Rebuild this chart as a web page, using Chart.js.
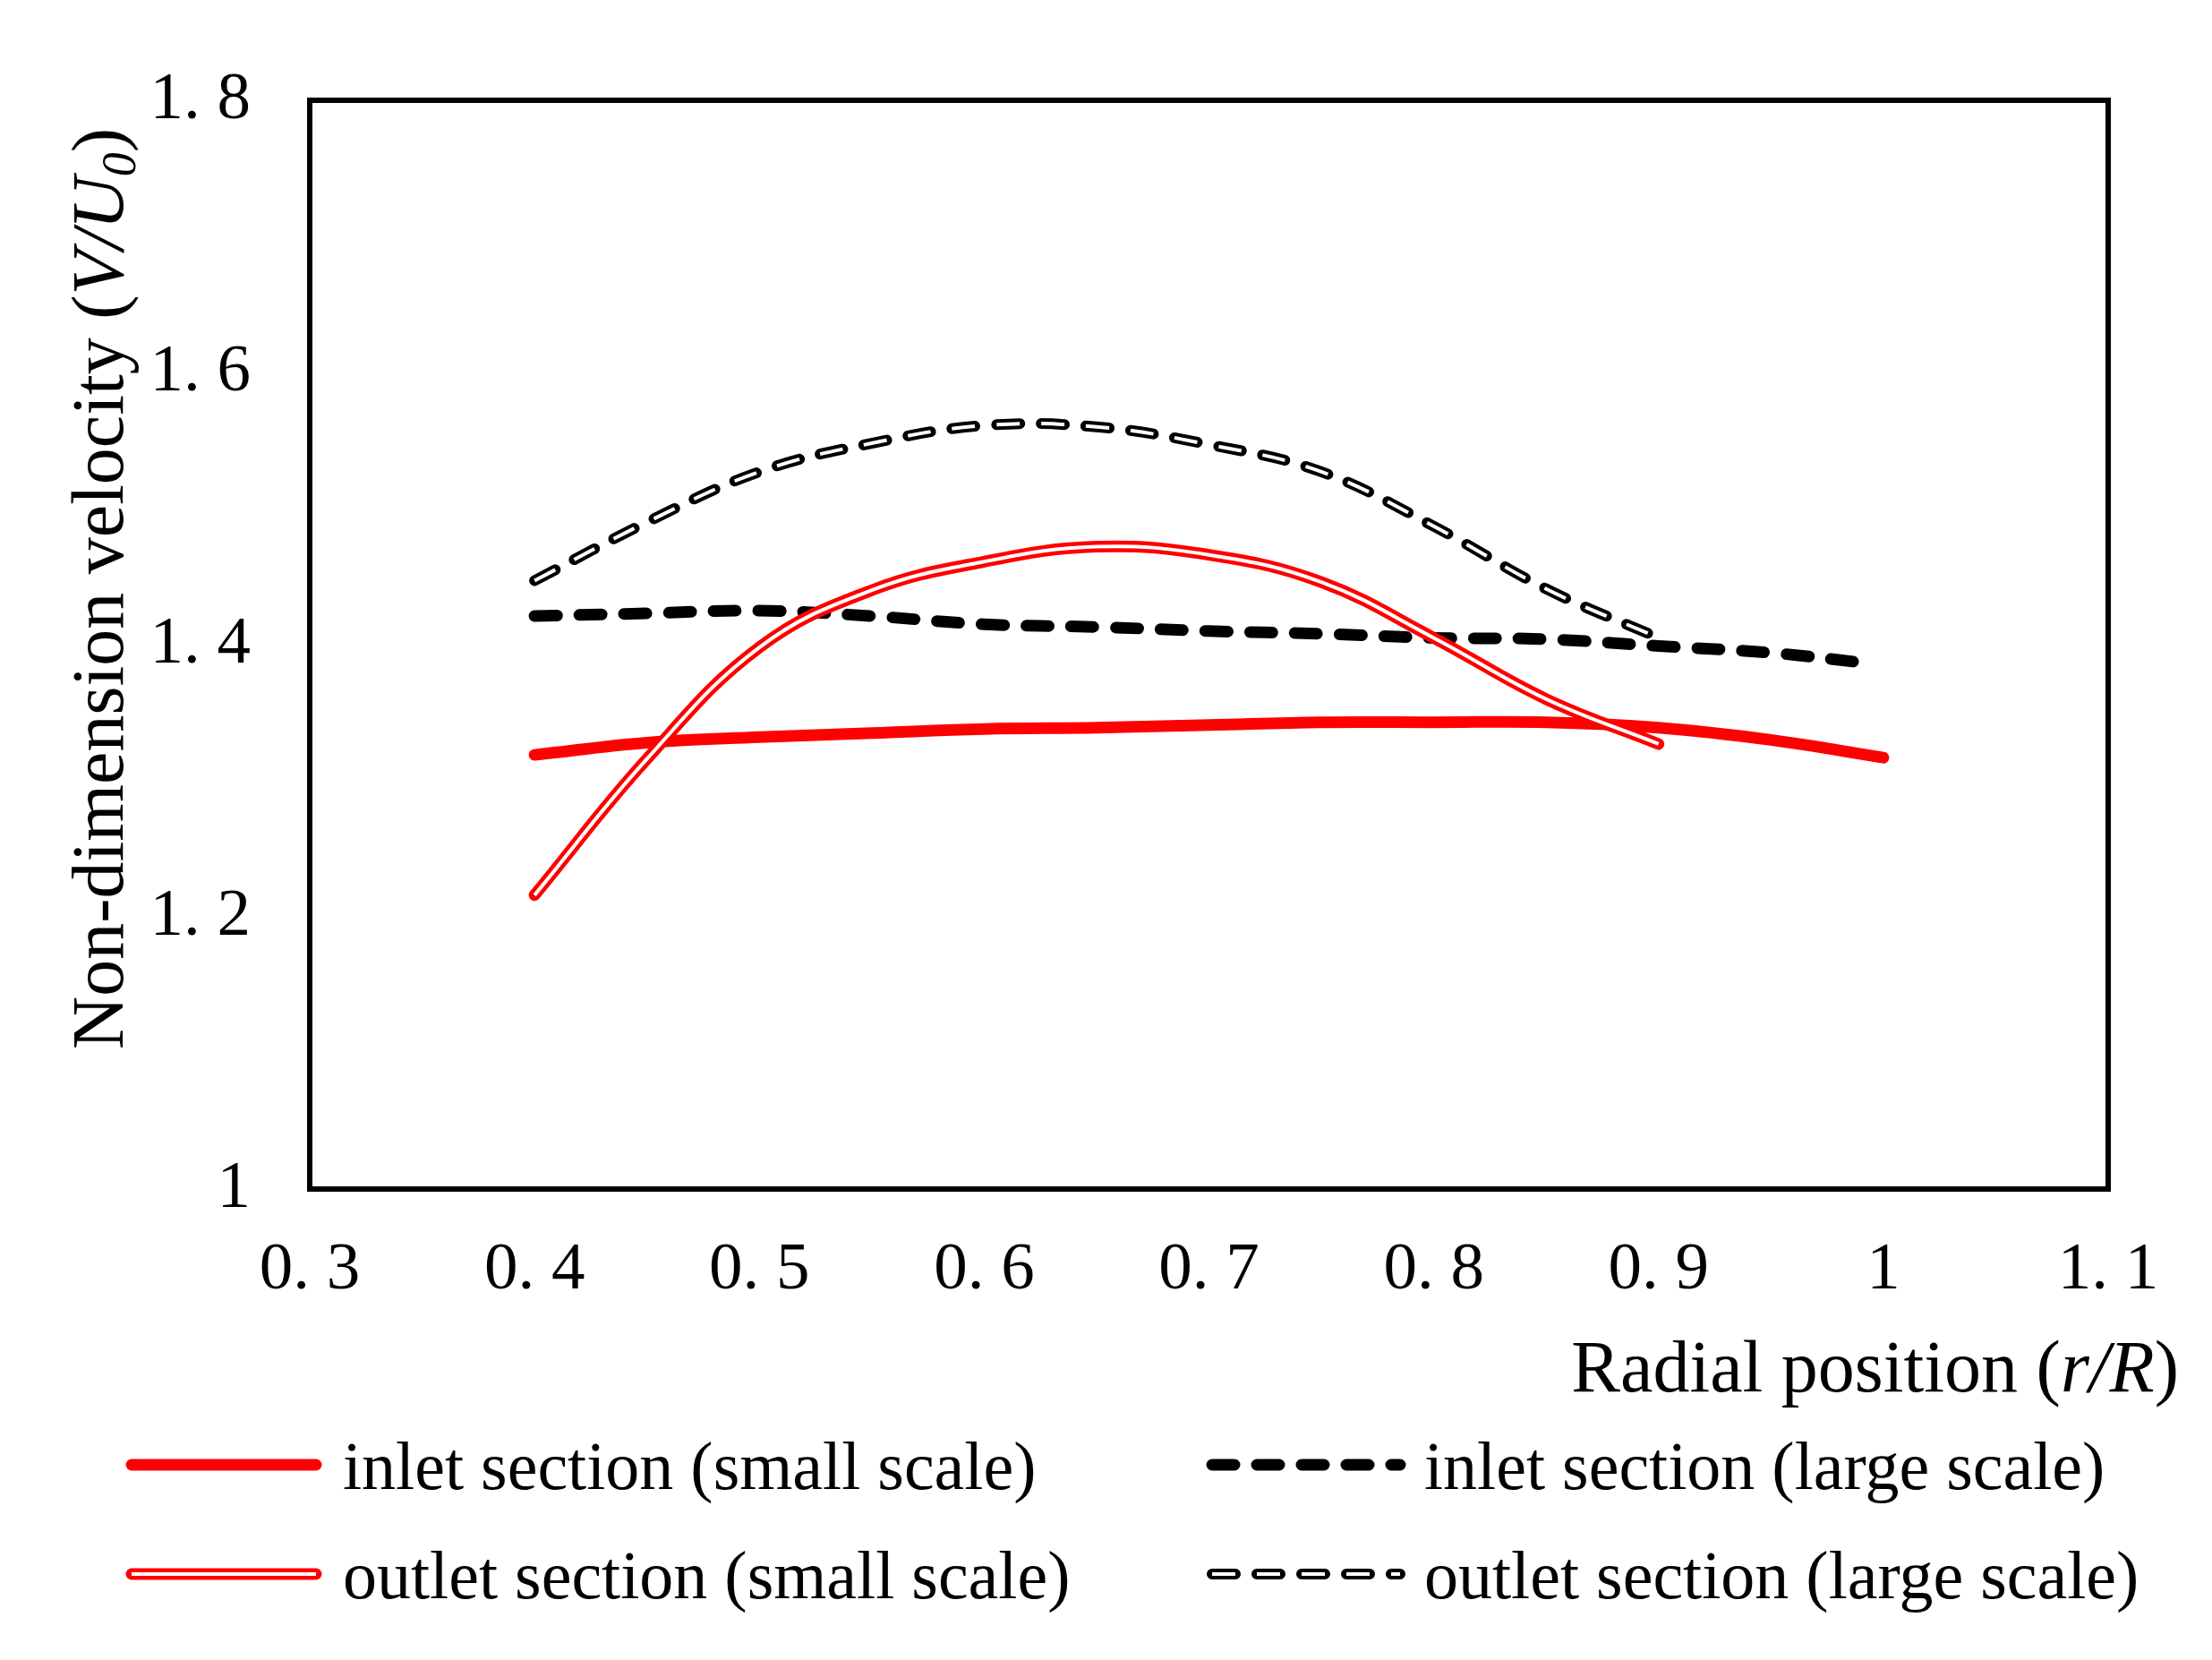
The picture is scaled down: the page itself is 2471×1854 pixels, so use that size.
<!DOCTYPE html>
<html lang="en">
<head>
<meta charset="UTF-8">
<title>Non-dimension velocity vs radial position</title>
<script src="https://cdn.jsdelivr.net/npm/chart.js"></script>
<style>
  html, body { margin: 0; padding: 0; background: #fff; }
  #wrap { width: 2471px; height: 1854px; position: relative; }
</style>
</head>
<body>
<div id="wrap"><canvas id="velChart"></canvas></div>
<script>
  // axis ticks
  const xTicks = [0.3, 0.4, 0.5, 0.6, 0.7, 0.8, 0.9, 1.0, 1.1];
  const xTickLabels = ['0. 3', '0. 4', '0. 5', '0. 6', '0. 7', '0. 8', '0. 9', '1', '1. 1'];
  const yTicks = [1.0, 1.2, 1.4, 1.6, 1.8];
  const yTickLabels = ['1', '1. 2', '1. 4', '1. 6', '1. 8'];

  // series
  const rInletSmall = [0.4, 0.45, 0.5, 0.55, 0.6, 0.65, 0.7, 0.75, 0.8, 0.85, 0.9, 0.95, 1.0];
  const inletSmall = [1.319, 1.328, 1.332, 1.335, 1.338, 1.339, 1.341, 1.343, 1.343, 1.343, 1.339, 1.330, 1.317];

  const rOutletSmall = [0.4, 0.45, 0.5, 0.55, 0.6, 0.65, 0.7, 0.75, 0.8, 0.85, 0.9];
  const outletSmall = [1.216, 1.316, 1.398, 1.440, 1.461, 1.472, 1.466, 1.446, 1.405, 1.360, 1.327];

  const rInletLarge = [0.4, 0.45, 0.5, 0.55, 0.6, 0.65, 0.7, 0.75, 0.8, 0.85, 0.9, 0.95, 0.995];
  const inletLarge = [1.421, 1.423, 1.425, 1.421, 1.415, 1.413, 1.410, 1.408, 1.405, 1.404, 1.399, 1.394, 1.386];

  const rOutletLarge = [0.4, 0.45, 0.5, 0.55, 0.6, 0.65, 0.7, 0.75, 0.8, 0.85, 0.9];
  const outletLarge = [1.447, 1.490, 1.527, 1.548, 1.561, 1.560, 1.547, 1.527, 1.487, 1.441, 1.405];

  const legendLabels = [
    'inlet section (small scale)',
    'inlet section (large scale)',
    'outlet section (small scale)',
    'outlet section (large scale)'
  ];

  const FONT = "'Liberation Serif', 'Times New Roman', serif";
  const RED = '#ff0000';

  const pts = (xs, ys) => xs.map((x, i) => ({ x: x, y: ys[i] }));

  // line styles, shared by plot and legend
  const styleInletSmall = { color: RED, width: 13, dash: [], cap: 'round' };
  const styleInletLarge = { color: '#000', width: 13, dash: [25, 25], cap: 'round' };
  const styleOutletSmallOuter = { color: RED, width: 13, dash: [], cap: 'round' };
  const styleOutletSmallInner = { color: '#fff', width: 4, dash: [], cap: 'butt' };
  const styleOutletLargeOuter = { color: '#000', width: 12, dash: [26, 24], cap: 'round' };
  const styleOutletLargeInner = { color: '#fff', width: 4, dash: [26, 24], cap: 'butt' };

  function lineDataset(data, st, order) {
    return {
      data: data,
      borderColor: st.color,
      borderWidth: st.width,
      borderDash: st.dash,
      borderCapStyle: st.cap,
      borderJoinStyle: 'round',
      pointRadius: 0,
      fill: false,
      tension: 0.4,
      order: order
    };
  }

  function drawRuns(ctx, runs, x, y, align) {
    let total = 0;
    runs.forEach(r => { ctx.font = r.font; total += ctx.measureText(r.text).width; });
    let cx = align === 'right' ? x - total : x;
    ctx.textAlign = 'left';
    ctx.textBaseline = 'alphabetic';
    runs.forEach(r => {
      ctx.font = r.font;
      ctx.fillText(r.text, cx, y + (r.dy || 0));
      cx += ctx.measureText(r.text).width;
    });
  }

  function strokeSample(ctx, st, x1, x2, y) {
    ctx.save();
    ctx.strokeStyle = st.color;
    ctx.lineWidth = st.width;
    ctx.lineCap = st.cap;
    ctx.setLineDash(st.dash);
    ctx.beginPath();
    ctx.moveTo(x1, y);
    ctx.lineTo(x2, y);
    ctx.stroke();
    ctx.restore();
  }

  const decorPlugin = {
    id: 'decor',
    afterDraw(chart) {
      const ctx = chart.ctx;
      const a = chart.chartArea;
      ctx.save();

      // plot frame
      ctx.strokeStyle = '#000';
      ctx.lineWidth = 6;
      ctx.strokeRect(a.left, a.top, a.right - a.left, a.bottom - a.top);

      ctx.fillStyle = '#000';
      const n = '82px ' + FONT, it = 'italic 82px ' + FONT;

      // x title
      drawRuns(ctx, [
        { text: 'Radial position (', font: n },
        { text: 'r/R', font: it },
        { text: ')', font: n }
      ], 2434, 1554, 'right');

      // y title
      ctx.save();
      ctx.translate(137, 1172);
      ctx.rotate(-Math.PI / 2);
      drawRuns(ctx, [
        { text: 'Non-dimension velocity (', font: n },
        { text: 'V/U', font: it },
        { text: '0', font: 'italic 54px ' + FONT, dy: 14 },
        { text: ')', font: n }
      ], 0, 0, 'left');
      ctx.restore();

      // legend, two columns
      const lf = '76px ' + FONT;
      const rows = [1636, 1758];
      const cols = [{ x1: 147, x2: 353, tx: 383 }, { x1: 1354, x2: 1564, tx: 1591 }];

      strokeSample(ctx, styleInletSmall, cols[0].x1, cols[0].x2, rows[0]);
      strokeSample(ctx, styleInletLarge, cols[1].x1, cols[1].x2, rows[0]);
      strokeSample(ctx, styleOutletSmallOuter, cols[0].x1, cols[0].x2, rows[1]);
      strokeSample(ctx, styleOutletSmallInner, cols[0].x1, cols[0].x2, rows[1]);
      strokeSample(ctx, styleOutletLargeOuter, cols[1].x1, cols[1].x2, rows[1]);
      strokeSample(ctx, styleOutletLargeInner, cols[1].x1, cols[1].x2, rows[1]);

      ctx.fillStyle = '#000';
      drawRuns(ctx, [{ text: legendLabels[0], font: lf }], cols[0].tx, rows[0] + 27, 'left');
      drawRuns(ctx, [{ text: legendLabels[1], font: lf }], cols[1].tx, rows[0] + 27, 'left');
      drawRuns(ctx, [{ text: legendLabels[2], font: lf }], cols[0].tx, rows[1] + 27, 'left');
      drawRuns(ctx, [{ text: legendLabels[3], font: lf }], cols[1].tx, rows[1] + 27, 'left');

      ctx.restore();
    }
  };

  new Chart(document.getElementById('velChart'), {
    type: 'line',
    data: {
      datasets: [
        lineDataset(pts(rInletSmall, inletSmall), styleInletSmall, 6),
        lineDataset(pts(rInletLarge, inletLarge), styleInletLarge, 5),
        lineDataset(pts(rOutletSmall, outletSmall), styleOutletSmallOuter, 4),
        lineDataset(pts(rOutletSmall, outletSmall), styleOutletSmallInner, 3),
        lineDataset(pts(rOutletLarge, outletLarge), styleOutletLargeOuter, 2),
        lineDataset(pts(rOutletLarge, outletLarge), styleOutletLargeInner, 1)
      ]
    },
    options: {
      responsive: true,
      maintainAspectRatio: false,
      devicePixelRatio: 1,
      animation: false,
      layout: { padding: { left: 0, top: 112, right: 116, bottom: 0 } },
      plugins: { legend: { display: false }, tooltip: { enabled: false } },
      scales: {
        x: {
          type: 'linear',
          min: 0.3,
          max: 1.1,
          grid: { display: false },
          border: { display: false },
          afterBuildTicks: s => { s.ticks = xTicks.map(v => ({ value: v })); },
          afterFit: s => { s.height = 526; },
          ticks: {
            padding: 38,
            maxRotation: 0,
            autoSkip: false,
            color: '#000',
            font: { family: FONT, size: 75 },
            callback: (v, i) => xTickLabels[i]
          }
        },
        y: {
          type: 'linear',
          min: 1.0,
          max: 1.8,
          grid: { display: false },
          border: { display: false },
          afterBuildTicks: s => { s.ticks = yTicks.map(v => ({ value: v })); },
          afterFit: s => { s.width = 346; },
          ticks: {
            padding: 58,
            autoSkip: false,
            color: '#000',
            font: { family: FONT, size: 75 },
            callback: (v, i) => yTickLabels[i]
          }
        }
      }
    },
    plugins: [decorPlugin]
  });
</script>
</body>
</html>
